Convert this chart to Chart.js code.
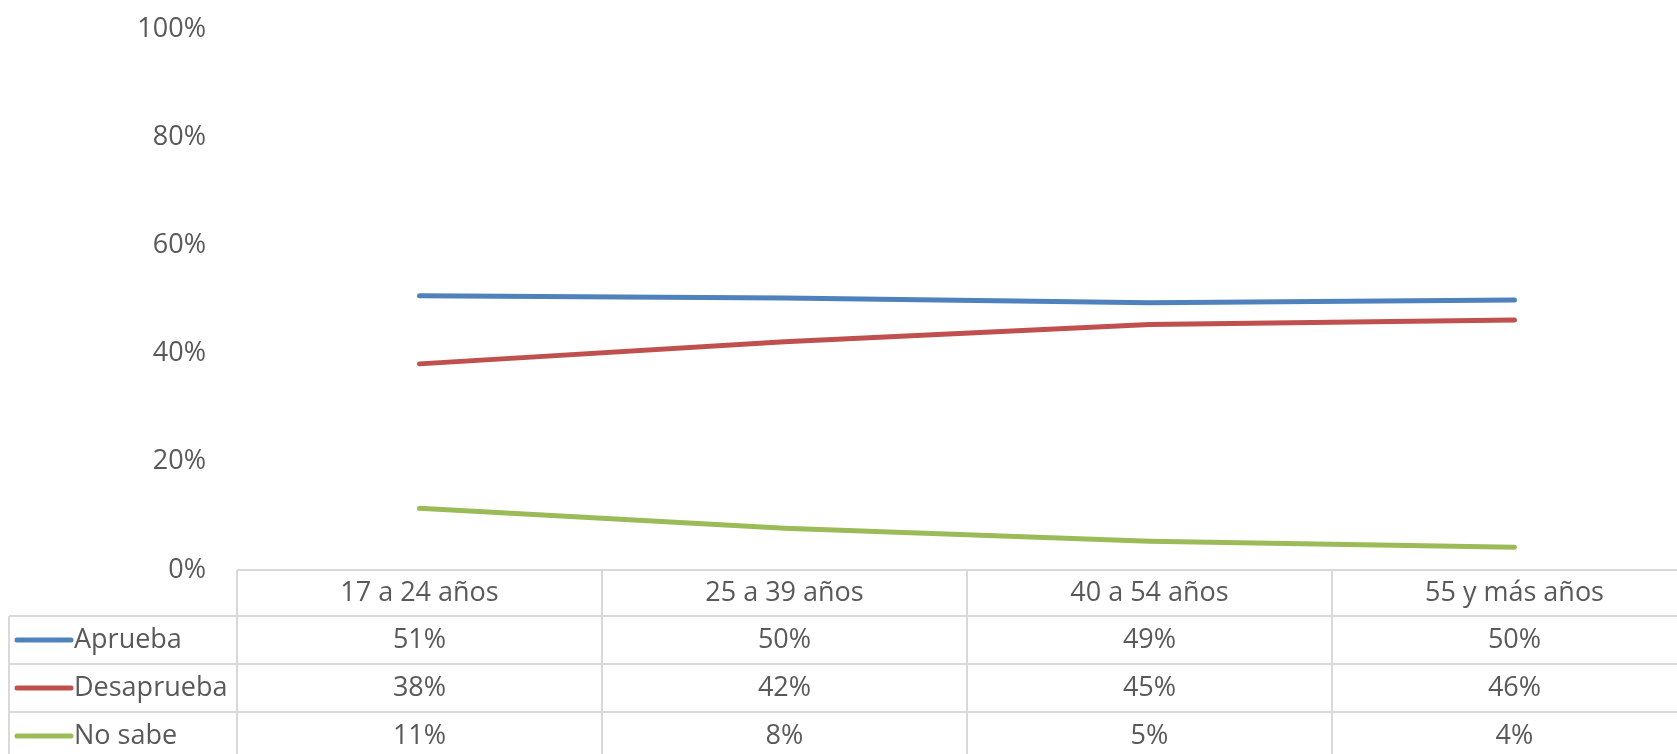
<!DOCTYPE html>
<html>
<head>
<meta charset="utf-8">
<script src="https://cdn.jsdelivr.net/npm/chart.js@4.4.0/dist/chart.umd.min.js"></script>
<style>
  html, body { margin: 0; padding: 0; background: #fff; overflow: hidden; }
  #wrap { position: relative; width: 1700px; height: 754px; }
</style>
</head>
<body>
<div id="wrap"><canvas id="c"></canvas></div>
<script>
const categories = ['17 a 24 años', '25 a 39 años', '40 a 54 años', '55 y más años'];
const seriesNames = ['Aprueba', 'Desaprueba', 'No sabe'];
const aprueba = [50.7, 50.3, 49.4, 49.9];
const desaprueba = [38.1, 42.2, 45.4, 46.2];
const noSabe = [11.4, 7.7, 5.3, 4.2];
const yTicks = [0, 20, 40, 60, 80, 100];
const colors = ['#4F81BD', '#C0504D', '#9BBB59'];

const FONT = '"Open Sans", "DejaVu Sans", sans-serif';
const FSIZE = 27;
const TEXT = '#595959';
const GRID = '#D9D9D9';

const tablePlugin = {
  id: 'dataTable',
  afterDraw(chart) {
    const ctx = chart.ctx;
    const x = chart.scales.x;
    const area = chart.chartArea;
    const top = area.bottom;
    const rowLines = [top, top + 46, top + 94, top + 142, top + 190];
    const legendLeft = 9;
    const n = categories.length;
    const colW = (area.right - area.left) / n;
    const colEdges = [];
    for (let i = 0; i <= n; i++) colEdges.push(area.left + i * colW);

    ctx.save();
    ctx.strokeStyle = GRID;
    ctx.lineWidth = 2;
    ctx.beginPath();
    ctx.moveTo(area.left, rowLines[0]); ctx.lineTo(area.right, rowLines[0]);
    for (let r = 1; r < rowLines.length; r++) {
      ctx.moveTo(legendLeft, rowLines[r]); ctx.lineTo(area.right, rowLines[r]);
    }
    colEdges.forEach(ex => { ctx.moveTo(ex, rowLines[0]); ctx.lineTo(ex, rowLines[4]); });
    ctx.moveTo(legendLeft, rowLines[1]); ctx.lineTo(legendLeft, rowLines[4]);
    ctx.stroke();

    ctx.fillStyle = TEXT;
    ctx.font = FSIZE + 'px ' + FONT;
    ctx.textAlign = 'center';
    ctx.textBaseline = 'middle';
    categories.forEach((c, i) => {
      ctx.fillText(c, x.getPixelForValue(i), (rowLines[0] + rowLines[1]) / 2);
    });
    const all = [aprueba, desaprueba, noSabe];
    all.forEach((vals, s) => {
      const cy = (rowLines[s + 1] + rowLines[s + 2]) / 2;
      vals.forEach((v, i) => {
        ctx.textAlign = 'center';
        ctx.fillStyle = TEXT;
        ctx.fillText(Math.round(v) + '%', x.getPixelForValue(i), cy);
      });
      ctx.strokeStyle = colors[s];
      ctx.lineWidth = 5;
      ctx.lineCap = 'round';
      ctx.beginPath();
      ctx.moveTo(17, cy); ctx.lineTo(71, cy);
      ctx.stroke();
      ctx.textAlign = 'left';
      ctx.fillStyle = TEXT;
      ctx.fillText(seriesNames[s], 74, cy);
    });
    ctx.restore();
  }
};

new Chart(document.getElementById('c'), {
  type: 'line',
  data: {
    labels: categories,
    datasets: [aprueba, desaprueba, noSabe].map((d, i) => ({
      label: seriesNames[i],
      data: d,
      borderColor: colors[i],
      backgroundColor: colors[i],
      borderWidth: 5,
      borderCapStyle: 'round',
      pointRadius: 0,
      tension: 0
    }))
  },
  options: {
    responsive: true,
    maintainAspectRatio: false,
    animation: false,
    layout: { padding: { top: 29, bottom: 184, left: 0, right: 3 } },
    plugins: { legend: { display: false }, tooltip: { enabled: false } },
    scales: {
      x: {
        display: false,
        offset: true
      },
      y: {
        min: 0, max: 100,
        afterBuildTicks(scale) { scale.ticks = yTicks.map(v => ({ value: v })); },
        afterFit(scale) { scale.width = 237; },
        grid: {
          display: true, drawOnChartArea: false, drawTicks: true,
          tickLength: 31, color: 'rgba(0,0,0,0)', tickColor: 'rgba(0,0,0,0)'
        },
        border: { display: false },
        ticks: {
          padding: 0,
          color: TEXT,
          font: { family: FONT, size: FSIZE },
          callback: v => v + '%'
        }
      }
    }
  },
  plugins: [tablePlugin]
});
</script>
</body>
</html>
